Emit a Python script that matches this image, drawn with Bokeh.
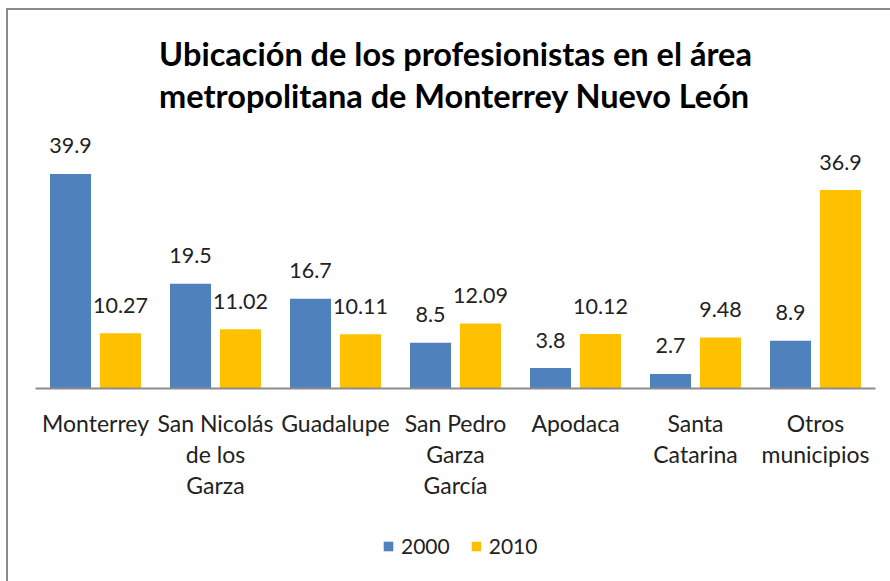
from bokeh.plotting import figure
from bokeh.layouts import column
from bokeh.models import FactorRange, Range1d, Legend, LegendItem, ColumnDataSource
from bokeh.transform import dodge
from bokeh.core.properties import value
from bokeh.embed import file_html
from bokeh.resources import INLINE

categories = ["Monterrey", "San Nicolás\nde los\nGarza", "Guadalupe", "San Pedro\nGarza\nGarcía",
              "Apodaca", "Santa\nCatarina", "Otros\nmunicipios"]
values_2000 = [39.9, 19.5, 16.7, 8.5, 3.8, 2.7, 8.9]
values_2010 = [10.27, 11.02, 10.11, 12.09, 10.12, 9.48, 36.9]
series_names = ["2000", "2010"]
title_text = "Ubicación de los profesionistas en el área\nmetropolitana de Monterrey Nuevo León"

BLUE = "#4F81BD"
GOLD = "#FFC000"
FONT = "Lato"
TXT = "#222222"

source = ColumnDataSource(data=dict(
    cat=categories,
    v2000=values_2000,
    v2010=values_2010,
    l2000=[str(v) for v in values_2000],
    l2010=[str(v) for v in values_2010],
))

p = figure(width=882, height=505, output_backend="svg", toolbar_location=None,
           x_range=FactorRange(factors=categories), y_range=Range1d(0, 48.35),
           min_border_left=27, min_border_right=15, min_border_bottom=127, min_border_top=118)

p.title.text = title_text
p.title.align = "center"
p.title.text_font = FONT
p.title.text_font_size = "32.5px"
p.title.text_font_style = "bold"
p.title.text_color = "#000000"
p.title.text_line_height = 1.1
p.title.standoff = 26

off = 0.208
w = 0.342
p.vbar(x=dodge("cat", -off, range=p.x_range), top="v2000", width=w, source=source,
       fill_color=BLUE, line_color=None)
p.vbar(x=dodge("cat", off, range=p.x_range), top="v2010", width=w, source=source,
       fill_color=GOLD, line_color=None)

for col, lab, o in (("v2000", "l2000", -off), ("v2010", "l2010", off)):
    p.text(x=dodge("cat", o, range=p.x_range), y=col, text=lab, source=source,
           text_align="center", text_baseline="alphabetic", y_offset=-28,
           text_font=value(FONT), text_font_size="21.5px", text_color=TXT)

p.yaxis.visible = False
p.xgrid.visible = False
p.ygrid.visible = False
p.outline_line_color = None

ax = p.xaxis[0]
ax.axis_line_color = "#8c8c8c"
ax.axis_line_width = 2
ax.major_tick_line_color = None
ax.minor_tick_line_color = None
ax.major_label_standoff = 14
ax.major_label_text_font = FONT
ax.major_label_text_font_size = "23px"
ax.major_label_text_line_height = 1.12
ax.major_label_text_color = TXT

# legend strip below the chart; its renderers are hidden proxies for the swatches
lf = figure(width=882, height=66, output_backend="svg", toolbar_location=None,
            x_range=p.x_range, y_range=Range1d(0, 48.35),
            min_border_left=0, min_border_right=0, min_border_top=0, min_border_bottom=0)
lf.axis.visible = False
lf.grid.visible = False
lf.outline_line_color = None
g1 = lf.vbar(x=dodge("cat", -off, range=p.x_range), top="v2000", width=w, source=source,
             fill_color=BLUE, line_color=None, visible=False)
g2 = lf.vbar(x=dodge("cat", off, range=p.x_range), top="v2010", width=w, source=source,
             fill_color=GOLD, line_color=None, visible=False)
legend = Legend(items=[LegendItem(label=series_names[0], renderers=[g1]),
                       LegendItem(label=series_names[1], renderers=[g2])],
                orientation="horizontal", location=(347, 23),
                glyph_width=12, glyph_height=12, label_standoff=7, spacing=20,
                padding=0, margin=0, border_line_color=None, background_fill_alpha=0,
                label_text_font=FONT, label_text_font_size="21px", label_text_color=TXT)
lf.add_layout(legend, "center")

layout = column(p, lf, spacing=0)
layout.styles = {"margin-left": "6px", "margin-top": "8px",
                 "border-left": "2px solid #8a8a8a", "border-top": "2px solid #8a8a8a"}

open("out.html", "w").write(file_html(layout, INLINE))
